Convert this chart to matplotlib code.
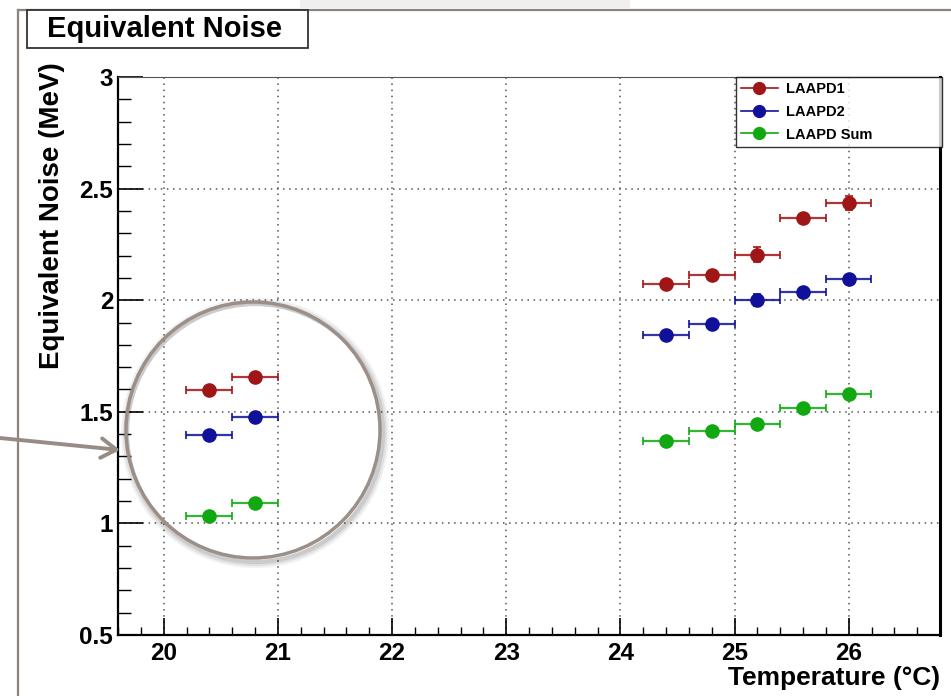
import matplotlib
matplotlib.use("Agg")
import matplotlib.pyplot as plt
from matplotlib.patches import Rectangle, Ellipse, FancyArrowPatch
from matplotlib.lines import Line2D
from matplotlib.ticker import MultipleLocator

plt.rcParams['font.family'] = ['Liberation Sans', 'DejaVu Sans']

temps = [20.4, 20.8, 24.4, 24.8, 25.2, 25.6, 26.0]
temp_err = [0.2, 0.2, 0.2, 0.2, 0.2, 0.2, 0.2]
laapd1 = [1.598, 1.655, 2.073, 2.113, 2.203, 2.370, 2.434]
laapd1_err = [0.01, 0.01, 0.012, 0.012, 0.034, 0.015, 0.031]
laapd2 = [1.396, 1.478, 1.844, 1.893, 2.001, 2.035, 2.095]
laapd2_err = [0.01, 0.01, 0.01, 0.01, 0.029, 0.01, 0.012]
laapd_sum = [1.035, 1.093, 1.369, 1.414, 1.444, 1.518, 1.580]
laapd_sum_err = [0.008, 0.008, 0.008, 0.008, 0.01, 0.008, 0.01]
x_ticks = [20, 21, 22, 23, 24, 25, 26]
x_tick_labels = ["20", "21", "22", "23", "24", "25", "26"]
y_ticks = [0.5, 1, 1.5, 2, 2.5, 3]
y_tick_labels = ["0.5", "1", "1.5", "2", "2.5", "3"]

series = [
    ("LAAPD1", laapd1, laapd1_err, "#a01515"),
    ("LAAPD2", laapd2, laapd2_err, "#10109a"),
    ("LAAPD Sum", laapd_sum, laapd_sum_err, "#12a812"),
]

W, H = 951, 696
fig = plt.figure(figsize=(W / 100, H / 100), dpi=100)
fig.patch.set_facecolor("white")

def fx(px):
    return px / W

def fy(py):
    return 1 - py / H

# subtle background shading
fig.add_artist(Rectangle((fx(300), fy(8)), fx(330), 8 / H, transform=fig.transFigure,
                         facecolor="#efefef", edgecolor="none", zorder=0))

ax = fig.add_axes([fx(118), fy(635), fx(940) - fx(118), fy(77) - fy(635)])

handles = []
for name, vals, errs, col in series:
    ax.errorbar(temps, vals, xerr=temp_err, yerr=errs, fmt="none", ecolor=col,
                elinewidth=1.6, capsize=3, capthick=1.4, alpha=0.85, zorder=3)
    ax.plot(temps, vals, "o", color=col, markersize=9.5, zorder=4, linestyle="none")
    handles.append(Line2D([0], [0], color=col, marker="o", markersize=8.5, lw=1.2, alpha=1))

ax.set_xlim(19.6, 26.8)
ax.set_ylim(0.5, 3.0)
ax.xaxis.set_minor_locator(MultipleLocator(0.2))
ax.yaxis.set_minor_locator(MultipleLocator(0.1))
ax.set_xticks(x_ticks)
ax.set_xticklabels(x_tick_labels)
ax.set_yticks(y_ticks)
ax.set_yticklabels(y_tick_labels)

ax.tick_params(axis="x", which="major", direction="in", length=12, width=1.2,
               labelsize=17.5, pad=5, top=False)
ax.tick_params(axis="x", which="minor", direction="in", length=6, width=1.0, top=False)
ax.tick_params(axis="y", which="major", direction="in", length=18, width=1.2,
               labelsize=17.5, pad=3.5, right=False)
ax.tick_params(axis="y", which="minor", direction="in", length=9, width=1.0, right=False)
for lab in ax.get_xticklabels() + ax.get_yticklabels():
    lab.set_fontweight("bold")

ax.grid(True, which="major", linestyle=(0, (1, 3)), color="#555555", linewidth=1.1)
ax.set_axisbelow(True)
for s in ["left", "bottom"]:
    ax.spines[s].set_linewidth(1.6)
ax.spines["right"].set_linewidth(2.2)
ax.spines["top"].set_linewidth(0.8)
ax.spines["top"].set_color("#555555")

leg = ax.legend(handles, [s[0] for s in series], loc="upper left",
                bbox_to_anchor=(0.752, 0.5, 0.25, 0.5), mode="expand",
                borderaxespad=0, frameon=True,
                fancybox=False, prop={"weight": "bold", "size": 10.5},
                handlelength=2.5, handletextpad=0.55, labelspacing=0.6,
                borderpad=0.35)
leg.get_frame().set_edgecolor("black")
leg.get_frame().set_linewidth(1.0)

# axis titles
fig.text(fx(940), fy(678), "Temperature (°C)", ha="right", va="center",
         fontsize=19, fontweight="bold")
fig.text(fx(52), fy(62), "Equivalent Noise (MeV)", ha="center", va="top",
         rotation=90, fontsize=20, fontweight="bold")

# outer gray frame lines
fig.add_artist(Line2D([fx(18), fx(18)], [fy(10), 0], transform=fig.transFigure,
                      color="#8c837d", lw=1.6))
fig.add_artist(Line2D([fx(18), 1], [fy(10), fy(10)], transform=fig.transFigure,
                      color="#8c837d", lw=1.6))

# title box
fig.add_artist(Rectangle((fx(27), fy(48)), fx(308) - fx(27), 38 / H,
                         transform=fig.transFigure, facecolor="white",
                         edgecolor="#333333", lw=1.3, zorder=5))
fig.text(fx(47), fy(29), "Equivalent Noise", ha="left", va="center",
         fontsize=21, fontweight="bold", zorder=6)

# highlight circle with soft shadow
cx, cy, rw, rh = 253, 430, 254, 256
for i, a in enumerate([0.05, 0.07, 0.09]):
    fig.add_artist(Ellipse((fx(cx + 2), fy(cy + 3)), (rw + 6 - 2 * i) / W, (rh + 6 - 2 * i) / H,
                           transform=fig.transFigure, facecolor="none",
                           edgecolor="black", lw=6 - 1.5 * i, alpha=a, zorder=6))
fig.add_artist(Ellipse((fx(cx), fy(cy)), rw / W, rh / H, transform=fig.transFigure,
                       facecolor="none", edgecolor="#9b8f88", lw=2.5, zorder=7))

# arrow pointing at circle
fig.add_artist(FancyArrowPatch((0, fy(438)), (fx(120), fy(450)),
                               transform=fig.transFigure,
                               arrowstyle="->,head_length=11,head_width=7",
                               color="#978b84", lw=2.8, mutation_scale=1,
                               shrinkA=0, shrinkB=0, zorder=7))

fig.savefig("out.png", dpi=100)
